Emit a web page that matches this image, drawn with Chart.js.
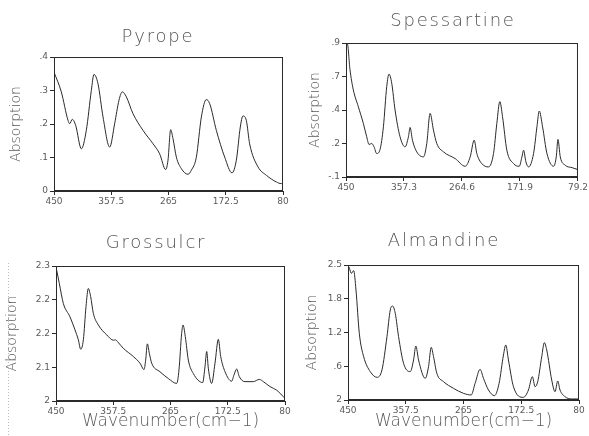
<!DOCTYPE html>
<html><head><meta charset="utf-8">
<script src="https://cdn.jsdelivr.net/npm/chart.js@4"></script>
<style>
html,body{margin:0;padding:0;background:#fff;width:589px;height:436px;overflow:hidden}
.p{position:absolute}
</style></head><body>
<div class="p" id="d1" style="left:0;top:0;width:290px;height:212px"><canvas id="c1"></canvas></div>
<div class="p" id="d2" style="left:295px;top:0;width:294px;height:200px"><canvas id="c2"></canvas></div>
<div class="p" id="d3" style="left:0;top:225px;width:292px;height:211px"><canvas id="c3"></canvas></div>
<div class="p" id="d4" style="left:295px;top:225px;width:294px;height:211px"><canvas id="c4"></canvas></div>
<script>
// ---- data ----
const pyropeWn = [450,438.2,427.4,424.7,420.4,415,405.8,397.8,389.7,385.4,378.9,370.8,360,352,345,339.6,333.1,322.4,306.2,290,279.3,269.6,265.8,261.5,257.7,252.3,244.3,233.5,228.1,220,211.9,203.9,198.5,187.7,174.2,162.4,155.4,149,144.7,139.3,133.9,120.4,106.9,90.8,82.7,80];
const pyropeAbs = [.355,.296,.211,.201,.214,.196,.126,.181,.300,.348,.320,.221,.131,.201,.271,.296,.281,.231,.181,.141,.111,.064,.092,.183,.156,.101,.067,.050,.062,.101,.221,.273,.261,.181,.101,.054,.092,.191,.224,.211,.141,.072,.047,.027,.022,.027];

const spessWn = [450,447.9,443.6,438.3,430.3,422.3,416.9,413.2,408.9,405.2,400.9,395.6,390.2,384.9,381.2,376.9,371.6,363.6,355.6,350.2,347.6,343.8,336.9,326.2,320.9,315.6,310.2,304.9,294.2,275.5,259.5,251.5,245.1,240.9,232.9,222.2,214.2,208.9,204.1,199.8,192.9,182.2,173.1,168.8,166.2,162.4,158.2,150.2,144.8,141.1,135.8,128.8,118.2,113.9,111.2,107.5,99.5,88.8,79.2];
const spessAbs = [.85,.895,.70,.55,.425,.30,.20,.143,.15,.125,.075,.105,.275,.575,.668,.60,.40,.20,.125,.20,.27,.175,.0875,.05,.15,.375,.25,.15,.0875,.0375,-.02,.05,.175,.075,0,-.025,.075,.30,.4625,.35,.10,0,-.02,.05,.10,.0125,-.025,.075,.275,.3925,.275,.075,-.02,.05,.18,.05,-.0125,-.03,-.045];

const grossWn = [450,444.6,438.2,427.4,419.3,413.9,410.1,405.8,401.5,397.8,394,389.7,381.6,368.1,357,354,350,341.2,325.1,314.3,307.8,305.1,302.4,299.2,295.4,282,268.5,255,251.3,247,244.8,241.1,236.2,228.1,213,209.3,206.5,203.9,198.5,193.1,187.7,183.9,176.9,166.2,162.4,158.1,153.8,144.6,131.2,121.5,115,104.2,93.5,80];
const grossAbs = [2.298,2.261,2.217,2.187,2.158,2.136,2.115,2.136,2.210,2.250,2.232,2.195,2.169,2.147,2.135,2.136,2.131,2.117,2.099,2.084,2.070,2.091,2.127,2.106,2.084,2.065,2.050,2.039,2.069,2.150,2.169,2.143,2.091,2.061,2.041,2.076,2.110,2.073,2.039,2.084,2.137,2.099,2.065,2.044,2.058,2.071,2.054,2.043,2.043,2.048,2.043,2.032,2.024,2.006];

const almWn = [450,448.9,444.7,440.9,437.2,431.9,424.9,414.3,403.6,395.6,387.6,382.3,378.6,374.3,369,361,350.3,345,341.3,337,326.3,321,316.7,313,307.7,297,281,265,252.7,246.4,238.4,233,225,215.4,208,201,197.3,193,185,169,161,154.7,150.4,146.1,139.7,135.5,131.7,123.7,118.4,114.1,110.4,102.4,91.8,80];
const almAbs = [2.40,2.469,2.346,2.395,2.037,1.235,0.802,0.525,0.420,0.556,1.173,1.667,1.741,1.605,1.173,0.679,0.525,0.741,1.000,0.741,0.401,0.617,0.975,0.802,0.494,0.340,0.216,0.123,0.093,0.309,0.568,0.401,0.185,0.080,0.309,0.833,1.019,0.741,0.247,0.049,0.185,0.432,0.247,0.340,0.802,1.062,0.926,0.370,0.154,0.352,0.185,0.062,0.019,0.019];

const xTicksStd = [450,357.5,265,172.5,80];
const xLabelsStd = ['450','357.5','265','172.5','80'];
const xTicksSpess = [450,357.3,264.6,171.9,79.2];
const xLabelsSpess = ['450','357.3','264.6','171.9','79.2'];

const yTicksPyrope = [0,.1,.2,.3,.4];
const yLabelsPyrope = ['0','.1','.2','.3','.4'];
const yTicksSpess = [-.1,.15,.4,.65,.9];
const yLabelsSpess = ['-.1','.2','.4','.7','.9'];
const yTicksGross = [2,2.075,2.15,2.225,2.3];
const yLabelsGross = ['2','2.1','2.2','2.2','2.3'];
const yTicksAlm = [0,.625,1.25,1.875,2.5];
const yLabelsAlm = ['2','.6','1.2','1.8','2.5'];

const titles = ['Pyrope','Spessartine','Grossulcr','Almandine'];
const yTitle = 'Absorption';
const xTitle = 'Wavenumber(cm\u22121)';

// ---- drawing ----
const FONT = '"DejaVu Sans ExtraLight", "DejaVu Sans", sans-serif';
const TXT = '#5a5a5a';
const INK = '#2a2a2a';

const panelPlugin = {
  id: 'panel',
  afterDraw(chart, args, o) {
    const {ctx, chartArea: a} = chart;
    ctx.save();
    ctx.strokeStyle = INK; ctx.lineWidth = 1;
    ctx.strokeRect(a.left + .5, a.top + .5, a.right - a.left - 1, a.bottom - a.top - 1);
    ctx.font = '200 18px ' + FONT;
    try { ctx.letterSpacing = '1.8px'; } catch(e) {}
    ctx.fillStyle = '#555'; ctx.textAlign = 'center'; ctx.textBaseline = 'middle';
    ctx.fillText(o.text, o.tx, o.ty);
    try { ctx.letterSpacing = '0px'; } catch(e) {}
    if (o.dotted) {
      ctx.strokeStyle = '#bbb'; ctx.setLineDash([1,2]);
      ctx.beginPath(); ctx.moveTo(8.5, 38); ctx.lineTo(8.5, 211); ctx.stroke();
    }
    ctx.restore();
  }
};

function makePanel(id, wn, ab, cfg) {
  const data = wn.map((x, i) => ({x: x, y: ab[i]}));
  new Chart(document.getElementById(id), {
    type: 'line',
    data: {datasets: [{data: data, borderColor: INK, borderWidth: 1, pointRadius: 0,
      cubicInterpolationMode: 'monotone', fill: false}]},
    plugins: [panelPlugin],
    options: {
      responsive: true, maintainAspectRatio: false, animation: false,
      layout: {padding: {top: cfg.padTop, right: cfg.padRight, left: 0, bottom: 0}},
      plugins: {legend: {display: false}, tooltip: {enabled: false},
        panel: {text: cfg.title, tx: cfg.tx, ty: cfg.ty, dotted: !!cfg.dotted}},
      scales: {
        x: {
          type: 'linear', reverse: true, min: cfg.xTicks[cfg.xTicks.length-1], max: cfg.xTicks[0],
          afterBuildTicks: s => { s.ticks = cfg.xTicks.map(v => ({value: v})); },
          afterFit: s => { s.height = cfg.xH; },
          ticks: {callback: (v, i) => cfg.xLabels[i], maxRotation: 0, autoSkip: false,
            font: {family: FONT, size: 9}, color: TXT, padding: 1},
          grid: {drawOnChartArea: false, drawTicks: true, tickLength: 4, color: INK},
          border: {color: INK, width: 1},
          title: {display: !!cfg.xTitle, text: xTitle, color: TXT,
            font: {family: FONT, size: 17, weight: '200'}, padding: {top: 0, bottom: 4}}
        },
        y: {
          type: 'linear', min: cfg.yTicks[0], max: cfg.yTicks[cfg.yTicks.length-1],
          afterBuildTicks: s => { s.ticks = cfg.yTicks.map(v => ({value: v})); },
          afterFit: s => { s.width = cfg.yW; },
          ticks: {callback: (v, i) => cfg.yLabels[i], autoSkip: false,
            font: {family: FONT, size: 9}, color: TXT, padding: 2},
          grid: {drawOnChartArea: false, drawTicks: true, tickLength: 4, color: INK},
          border: {color: INK, width: 1},
          title: {display: true, text: yTitle, color: TXT,
            font: {family: FONT, size: 14, weight: '200'}, padding: {top: cfg.yTitlePad, bottom: 0}}
        }
      }
    }
  });
}

makePanel('c1', pyropeWn, pyropeAbs, {title: titles[0], tx: 158, ty: 37,
  padTop: 57, padRight: 7, xH: 21, yW: 54, yTitlePad: 8,
  xTicks: xTicksStd, xLabels: xLabelsStd, yTicks: yTicksPyrope, yLabels: yLabelsPyrope});
makePanel('c2', spessWn, spessAbs, {title: titles[1], tx: 158, ty: 21,
  padTop: 43, padRight: 11, xH: 23, yW: 51, yTitlePad: 12,
  xTicks: xTicksSpess, xLabels: xLabelsSpess, yTicks: yTicksSpess, yLabels: yLabelsSpess});
makePanel('c3', grossWn, grossAbs, {title: titles[2], tx: 156, ty: 18, dotted: true,
  padTop: 41, padRight: 7, xH: 35, yW: 56, yTitlePad: 4, xTitle: true,
  xTicks: xTicksStd, xLabels: xLabelsStd, yTicks: yTicksGross, yLabels: yLabelsGross});
makePanel('c4', almWn, almAbs, {title: titles[3], tx: 149, ty: 16,
  padTop: 40, padRight: 10, xH: 36, yW: 53, yTitlePad: 9, xTitle: true,
  xTicks: xTicksStd, xLabels: xLabelsStd, yTicks: yTicksAlm, yLabels: yLabelsAlm});
</script>
</body></html>
